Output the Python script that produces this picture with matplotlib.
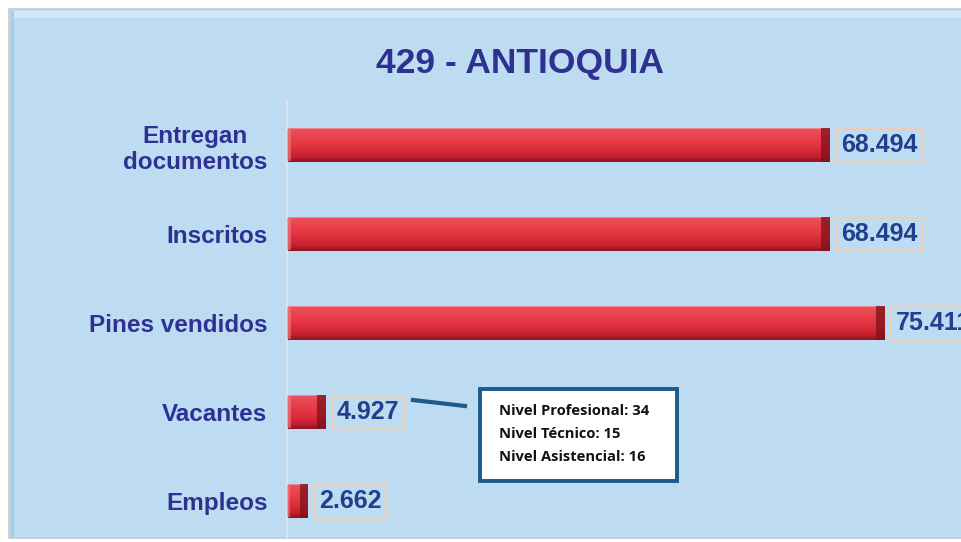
import matplotlib
matplotlib.use("Agg")
import matplotlib.pyplot as plt
from matplotlib.patches import Rectangle
from matplotlib.lines import Line2D
from matplotlib.colors import LinearSegmentedColormap

categories = ["Entregan\ndocumentos", "Inscritos", "Pines vendidos", "Vacantes", "Empleos"]
values = [68494, 68494, 75411, 4927, 2662]
value_labels = ["68.494", "68.494", "75.411", "4.927", "2.662"]
title = "429 - ANTIOQUIA"
callout_lines = ["Nivel Profesional: 34", "Nivel Técnico: 15", "Nivel Asistencial: 16"]

W, H = 962, 542
fig = plt.figure(figsize=(W / 100, H / 100), dpi=100)
fig.patch.set_facecolor("white")

def fx(px):
    return px / W

def fy(py):
    return 1 - py / H

# panel background
fig.patches.append(Rectangle((fx(9), fy(538)), fx(970) - fx(9), fy(9) - fy(538),
                             transform=fig.transFigure, facecolor="#BDDCF1",
                             edgecolor="#C8C8C8", linewidth=1.2, zorder=0))
fig.patches.append(Rectangle((fx(11), fy(18)), fx(970) - fx(11), fy(11) - fy(18),
                             transform=fig.transFigure, facecolor="#D3E8F7",
                             edgecolor="none", zorder=0.5))
fig.patches.append(Rectangle((fx(11), fy(537)), fx(14) - fx(11), fy(11) - fy(537),
                             transform=fig.transFigure, facecolor="#A9CBE3",
                             edgecolor="none", zorder=0.5))

ax = fig.add_axes([fx(287), fy(537), 1 - fx(287), fy(100) - fy(537)])
ax.set_facecolor("none")
ax.set_zorder(2)

px_per_unit = 543 / 68494
xmax = (W - 287) / px_per_unit
ax.set_xlim(0, xmax)
ax.set_ylim(4.404, -0.506)

ypos = list(range(len(categories)))
h = 0.39

# vertical shading profile of the bars (top -> bottom)
cmap = LinearSegmentedColormap.from_list(
    "bar", [(0.0, "#F2A3A8"), (0.06, "#EC4E58"), (0.3, "#E8404B"),
            (0.6, "#DE2E3B"), (0.82, "#C42030"), (1.0, "#8A1420")])
nslices = 24
for k in range(nslices):
    t = (k + 0.5) / nslices
    yc = [y - h / 2 + t * h for y in ypos]
    ax.barh(yc, values, height=h / nslices * 1.05, color=cmap(t), edgecolor="none",
            zorder=2)
# right-end bevel
ends = [min(9 / px_per_unit, v * 0.4) for v in values]
ax.barh(ypos, ends, left=[v - e for v, e in zip(values, ends)], height=h * 0.96,
        color="#7E111B", edgecolor="none", zorder=4, alpha=0.75)
# left-end highlight
lefts = [min(4 / px_per_unit, v * 0.15) for v in values]
ax.barh(ypos, lefts, height=h * 0.9, color="#F07C84", edgecolor="none", zorder=4,
        alpha=0.6)

for y, v, lab in zip(ypos, values, value_labels):
    ax.text(v + 11 / px_per_unit, y, lab, va="center", ha="left",
            fontsize=18, fontweight="bold", color="#203F8E", family="Liberation Sans",
            bbox=dict(boxstyle="square,pad=0.18", facecolor="none", edgecolor="#F6C9A6",
                      linewidth=1.2), zorder=5, clip_on=False)

ax.set_yticks(ypos)
ax.set_yticklabels(categories, fontsize=17.5, fontweight="bold", color="#2E3192",
                   family="Liberation Sans", multialignment="center")
ax.tick_params(axis="y", length=0, pad=14)
ax.set_xticks([])
for s in ["top", "right", "bottom"]:
    ax.spines[s].set_visible(False)
ax.spines["left"].set_color("#D8E2EA")
ax.spines["left"].set_linewidth(1.5)

fig.text(fx(520), fy(64), title, ha="center", va="center", fontsize=25.5,
         fontweight="bold", color="#2E3192", family="Liberation Sans")

# callout
fig.patches.append(Rectangle((fx(480), fy(481)), fx(677) - fx(480), fy(389) - fy(481),
                             transform=fig.transFigure, facecolor="white",
                             edgecolor="#1C5A8C", linewidth=2.8, zorder=6))
for i, line in enumerate(callout_lines):
    fig.text(fx(499), fy(411 + 23 * i), line, ha="left", va="center", fontsize=10.6,
             fontweight="bold", color="#111111", family="Open Sans", zorder=7)
fig.lines.append(Line2D([fx(413), fx(465)], [fy(400), fy(406)], transform=fig.transFigure,
                        color="#1C5A8C", linewidth=3, zorder=6))

fig.savefig("out.png", dpi=100)
